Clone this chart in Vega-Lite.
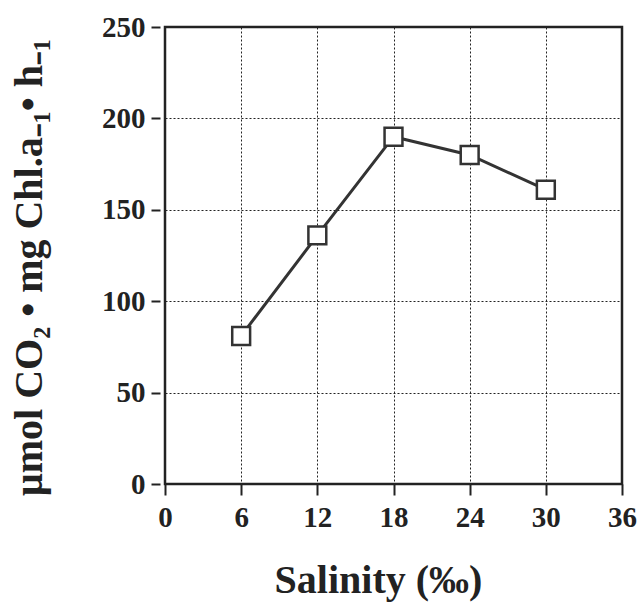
{
  "$schema": "https://vega.github.io/schema/vega-lite/v6.json",
  "width": 457,
  "height": 457,
  "autosize": {"type": "none"},
  "padding": {"left": 165, "top": 27, "right": 18, "bottom": 123},
  "background": "white",
  "config": {
    "view": {"stroke": "#222", "strokeWidth": 2.5},
    "axis": {
      "labelFont": "Liberation Serif",
      "labelFontWeight": "bold",
      "labelFontSize": 29,
      "labelColor": "#222",
      "titleFont": "Liberation Serif",
      "titleFontWeight": "bold",
      "titleColor": "#222",
      "tickColor": "#222",
      "tickWidth": 2,
      "gridColor": "#222",
      "gridDash": [2, 2],
      "gridWidth": 1,
      "gridOpacity": 1
    }
  },
  "data": {
    "values": [
      {"salinity": 6, "rate": 81},
      {"salinity": 12, "rate": 136},
      {"salinity": 18, "rate": 190},
      {"salinity": 24, "rate": 180},
      {"salinity": 30, "rate": 161}
    ]
  },
  "encoding": {
    "x": {
      "field": "salinity",
      "type": "quantitative",
      "scale": {"domain": [0, 36], "nice": false, "zero": false},
      "axis": {
        "values": [0, 6, 12, 18, 24, 30, 36],
        "title": "Salinity (‰)",
        "titleFontSize": 40,
        "titlePadding": 28,
        "titleX": 213,
        "domain": false,
        "tickSize": 11,
        "labelPadding": 8,
        "labelFlush": false
      }
    },
    "y": {
      "field": "rate",
      "type": "quantitative",
      "scale": {"domain": [0, 250], "nice": false},
      "axis": {
        "values": [0, 50, 100, 150, 200, 250],
        "title": "μmol CO₂ • mg Chl.a₋₁• h₋₁",
        "titleFontSize": 40,
        "titlePadding": 52,
        "titleY": 240,
        "domain": false,
        "offset": 5,
        "tickSize": 9,
        "labelPadding": 6,
        "labelFlush": false
      }
    }
  },
  "layer": [
    {"mark": {"type": "line", "color": "#333", "strokeWidth": 3}},
    {"mark": {"type": "point", "shape": "square", "size": 320, "filled": true, "fill": "white", "stroke": "#333", "strokeWidth": 2.5, "opacity": 1}}
  ]
}
